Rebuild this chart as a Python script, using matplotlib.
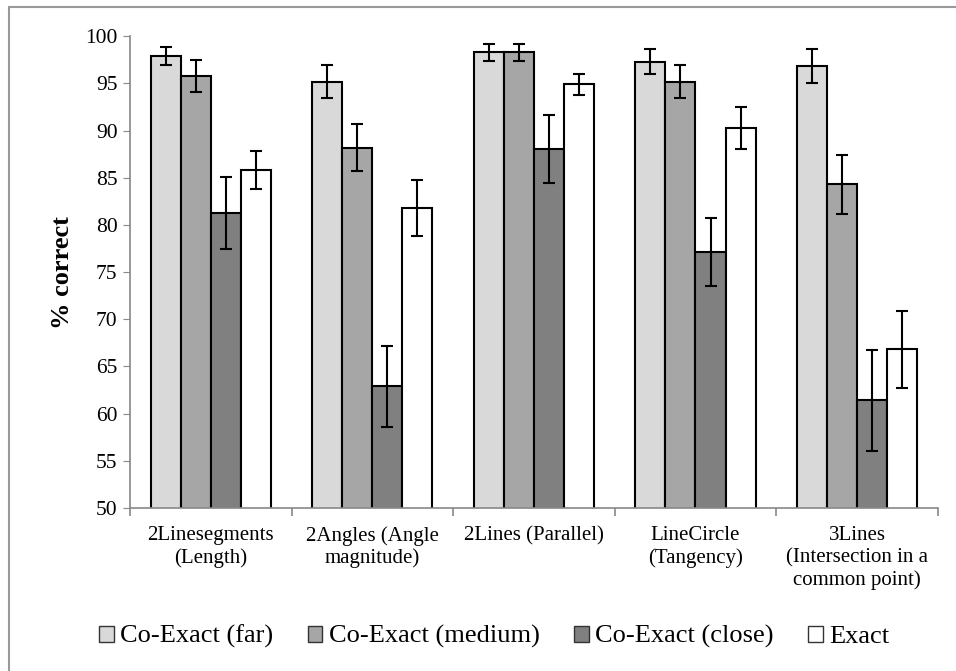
import numpy as np
import matplotlib
matplotlib.use("Agg")
import matplotlib.pyplot as plt
from matplotlib.patches import Rectangle

plt.rcParams['font.family'] = ['Liberation Serif', 'DejaVu Serif']

categories = ["2Linesegments\n(Length)", "2Angles (Angle\nmagnitude)",
              "2Lines (Parallel)", "LineCircle\n(Tangency)",
              "3Lines\n(Intersection in a\ncommon point)"]
series = ["Co-Exact (far)", "Co-Exact (medium)", "Co-Exact (close)", "Exact"]

far = [97.9, 95.2, 98.3, 97.3, 96.8]
far_err = [1.0, 1.7, 0.9, 1.35, 1.8]
medium = [95.8, 88.2, 98.3, 95.2, 84.3]
medium_err = [1.7, 2.45, 0.9, 1.7, 3.15]
close = [81.3, 62.9, 88.0, 77.1, 61.4]
close_err = [3.8, 4.3, 3.6, 3.6, 5.35]
exact = [85.8, 81.8, 94.9, 90.3, 66.8]
exact_err = [2.0, 2.95, 1.1, 2.2, 4.05]

values = [far, medium, close, exact]
errors = [far_err, medium_err, close_err, exact_err]
colors = ["#d9d9d9", "#a6a6a6", "#808080", "#ffffff"]


def main():
    fig = plt.figure(figsize=(9.56, 6.71), dpi=100)
    ax = fig.add_axes([0.136, 0.243, 0.845, 0.703])

    x = np.arange(len(categories))
    width = 0.186
    for i, (vals, errs) in enumerate(zip(values, errors)):
        pos = x + (i - 1.5) * width
        ax.bar(pos, vals, width, bottom=0, color=colors[i], edgecolor="black",
               linewidth=1.5, label=series[i], zorder=2)
        ax.errorbar(pos, vals, yerr=errs, fmt="none", ecolor="black",
                    elinewidth=1.5, capsize=4, capthick=1.5, zorder=3)

    ax.set_ylim(50, 100)
    ax.set_xlim(-0.5, len(categories) - 0.5)
    ax.set_yticks(np.arange(50, 101, 5))
    ax.tick_params(axis="y", labelsize=15.5, direction="out", length=5,
                   color="#888888", pad=4)
    ax.set_xticks(x)
    ax.set_xticklabels(categories, fontsize=15, linespacing=1.2)
    ax.tick_params(axis="x", length=0, pad=13)
    # category separator ticks
    ax.set_xticks(np.arange(-0.5, len(categories) + 0.5, 1), minor=True)
    ax.tick_params(axis="x", which="minor", length=6, direction="out",
                   color="#888888", width=1.2)

    for side in ["top", "right"]:
        ax.spines[side].set_visible(False)
    for side in ["left", "bottom"]:
        ax.spines[side].set_color("#888888")
        ax.spines[side].set_linewidth(1.2)

    ax.set_ylabel("% correct", fontsize=19, fontweight="bold", labelpad=8)

    leg = fig.legend(loc="center", bbox_to_anchor=(0.517, 0.051), ncol=4,
                     frameon=False, fontsize=19, handlelength=0.55,
                     handleheight=0.55, handletextpad=0.25, columnspacing=1.3)
    for h in leg.legend_handles:
        h.set_linewidth(1.0)
        h.set_edgecolor("#333333")

    fig.patches.append(Rectangle((9 / 956, -0.1), 1.2, 1.1 - 6.5 / 671,
                                 transform=fig.transFigure, fill=False,
                                 edgecolor="#999999", linewidth=1.5))

    fig.savefig("out.png", dpi=100)


if __name__ == "__main__":
    main()
